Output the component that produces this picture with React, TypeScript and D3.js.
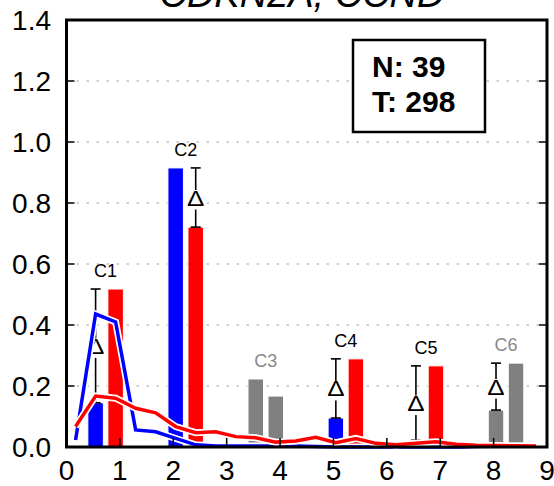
import React from "react";
import * as d3 from "d3";

const titleText = "CDKN2A, CCND";
const clusterLabels = ["C1", "C2", "C3", "C4", "C5", "C6"];
const clusterPos = [0.545, 2.045, 3.545, 5.045, 6.545, 8.045];
const secondOffset = 0.375;
const bar1Values = [0.145, 0.915, 0.223, 0.095, 0.022, 0.121];
const bar2Values = [0.518, 0.721, 0.167, 0.289, 0.266, 0.275];
const clusterSignificant = [true, true, false, true, true, false];
const clusterShowDelta = [true, true, false, true, true, true];

const lineX = [
  0.17, 0.545, 0.92, 1.295, 1.67, 2.045, 2.42, 2.795, 3.17, 3.545, 3.92, 4.295,
  4.67, 5.045, 5.42, 5.795, 6.17, 6.545, 6.92, 7.295, 7.67, 8.045, 8.42, 8.795,
];
const blueLine = [
  0.023, 0.436, 0.41, 0.056, 0.05, 0.028, 0.007, 0.003, 0.003, 0.003, 0.003, 0.003,
  0.002, 0, 0, 0, 0, 0, 0, 0, 0, 0, 0, 0,
];
const redLine = [
  0.067, 0.167, 0.16, 0.127, 0.112, 0.067, 0.047, 0.05, 0.034, 0.03, 0.016, 0.02,
  0.032, 0.014, 0.028, 0.012, 0.007, 0.012, 0.017, 0.009, 0.006, 0.005, 0.004, 0.003,
];

const yTicks = [0, 0.2, 0.4, 0.6, 0.8, 1.0, 1.2, 1.4];
const xTicks = [0, 1, 2, 3, 4, 5, 6, 7, 8, 9];
const legendN = 39;
const legendT = 298;

const W = 554;
const H = 486;
const FONT = "'Liberation Sans', Arial, Helvetica, sans-serif";
const BLUE = "#0000ff";
const RED = "#ff0000";
const GREY = "#808080";

export default function App() {
  const x = d3.scaleLinear().domain([0, 9]).range([66.5, 547]);
  const y = d3.scaleLinear().domain([0, 1.4]).range([447, 20]);
  const barW = 15.5;

  const line = d3
    .line<number>()
    .x((_, i) => x(lineX[i]))
    .y((d) => y(d));

  const fmt = d3.format(".1f");

  return (
    <div style={{ position: "absolute", left: 0, top: 0 }}>
      <svg width={W} height={H} style={{ display: "block", background: "#fff" }}>
        <rect x={0} y={0} width={W} height={H} fill="#fff" />
        {yTicks.slice(1, -1).map((t) => (
          <line
            key={"g" + t}
            x1={x(0)}
            x2={x(9)}
            y1={y(t)}
            y2={y(t)}
            stroke="#a0a0a0"
            strokeWidth={1}
            strokeDasharray="2.5,7.5"
          />
        ))}
        {clusterLabels.map((c, i) => {
          const sig = clusterSignificant[i];
          const c1 = sig ? BLUE : GREY;
          const c2 = sig ? RED : GREY;
          const x1 = x(clusterPos[i]);
          const x2 = x(clusterPos[i] + secondOffset);
          return (
            <g key={"b" + c}>
              <rect
                x={x1 - barW / 2}
                y={y(bar1Values[i])}
                width={barW}
                height={y(0) - y(bar1Values[i])}
                fill={c1}
                stroke="#fff"
                strokeWidth={1}
              />
              <rect
                x={x2 - barW / 2}
                y={y(bar2Values[i])}
                width={barW}
                height={y(0) - y(bar2Values[i])}
                fill={c2}
                stroke="#fff"
                strokeWidth={1}
              />
            </g>
          );
        })}
        {clusterLabels.map((c, i) => {
          if (!clusterShowDelta[i]) return null;
          const lowFirst = bar1Values[i] <= bar2Values[i];
          const lo = Math.min(bar1Values[i], bar2Values[i]);
          const hi = Math.max(bar1Values[i], bar2Values[i]);
          const ex = lowFirst ? x(clusterPos[i]) : x(clusterPos[i] + secondOffset);
          const yTop = y(hi);
          const yBot = y(lo);
          const mid = (yTop + yBot) / 2;
          return (
            <g key={"e" + c}>
              <line x1={ex} x2={ex} y1={yTop} y2={yBot} stroke="#000" strokeWidth={1.6} />
              <line x1={ex - 5} x2={ex + 5} y1={yTop} y2={yTop} stroke="#000" strokeWidth={1.6} />
              <line x1={ex - 5} x2={ex + 5} y1={yBot} y2={yBot} stroke="#000" strokeWidth={1.6} />
              <rect x={ex - 11} y={mid - 7.5} width={22} height={19.5} fill="#fff" />
              <text
                x={ex}
                y={mid + 8}
                textAnchor="middle"
                fontFamily={FONT}
                fontSize={22}
                transform={`translate(${ex},0) scale(1.18,1) translate(${-ex},0)`}
                fill="#000"
              >
                Δ
              </text>
            </g>
          );
        })}
        <path d={line(blueLine) || ""} fill="none" stroke="#fff" strokeWidth={7} />
        <path d={line(blueLine) || ""} fill="none" stroke={BLUE} strokeWidth={3.5} />
        <path d={line(redLine) || ""} fill="none" stroke="#fff" strokeWidth={7} />
        <path d={line(redLine) || ""} fill="none" stroke={RED} strokeWidth={3.5} />
        {clusterLabels.map((c, i) => {
          const hi = Math.max(bar1Values[i], bar2Values[i]);
          const cx = x(clusterPos[i] + secondOffset / 2);
          return (
            <text
              key={"l" + c}
              x={cx}
              y={y(hi) - 12}
              textAnchor="middle"
              fontFamily={FONT}
              fontSize={18}
              fill={clusterSignificant[i] ? "#000" : "#888"}
            >
              {c}
            </text>
          );
        })}
        {yTicks.slice(1, -1).map((t) => (
          <g key={"yt" + t}>
            <line x1={x(0)} x2={x(0) + 8} y1={y(t)} y2={y(t)} stroke="#000" strokeWidth={1.5} />
            <line x1={x(9)} x2={x(9) - 8} y1={y(t)} y2={y(t)} stroke="#000" strokeWidth={1.5} />
          </g>
        ))}
        {xTicks.slice(1, -1).map((t) => (
          <line key={"xt" + t} x1={x(t)} x2={x(t)} y1={y(0)} y2={y(0) - 9} stroke="#000" strokeWidth={1.5} />
        ))}
        <rect
          x={x(0)}
          y={y(1.4)}
          width={x(9) - x(0)}
          height={y(0) - y(1.4)}
          fill="none"
          stroke="#000"
          strokeWidth={3}
        />
        {yTicks.map((t) => (
          <text
            key={"yl" + t}
            x={51}
            y={y(t) + 10}
            textAnchor="end"
            fontFamily={FONT}
            fontSize={28}
            fill="#000"
          >
            {fmt(t)}
          </text>
        ))}
        {xTicks.map((t) => (
          <text
            key={"xl" + t}
            x={x(t)}
            y={480}
            textAnchor="middle"
            fontFamily={FONT}
            fontSize={28}
            fill="#000"
          >
            {t}
          </text>
        ))}
        <text
          x={302}
          y={7}
          textAnchor="middle"
          fontFamily={FONT}
          fontSize={38}
          fontStyle="italic"
          fill="#000"
        >
          {titleText}
        </text>
        <rect x={353} y={40} width={132} height={92} fill="#fff" stroke="#000" strokeWidth={2.5} />
        <text x={372} y={77} fontFamily={FONT} fontSize={30} fontWeight="bold" fill="#000">
          {`N: ${legendN}`}
        </text>
        <text x={372} y={112} fontFamily={FONT} fontSize={30} fontWeight="bold" fill="#000">
          {`T: ${legendT}`}
        </text>
      </svg>
    </div>
  );
}
